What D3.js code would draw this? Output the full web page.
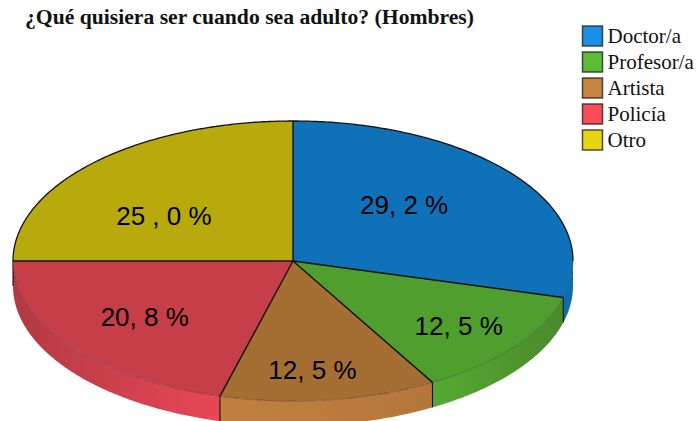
<!DOCTYPE html>
<html>
<head>
<meta charset="utf-8">
<script src="https://cdn.jsdelivr.net/npm/d3@7"></script>
<style>
  html, body { margin: 0; padding: 0; background: #fff; overflow: hidden; }
  svg { display: block; }
</style>
</head>
<body>
<div id="chart"></div>
<script>
var titleText = "¿Qué quisiera ser cuando sea adulto? (Hombres)";
var categories = ["Doctor/a", "Profesor/a", "Artista", "Policía", "Otro"];
var percents = [29.2, 12.5, 12.5, 20.8, 25.0];
var sliceLabels = ["29, 2 %", "12, 5 %", "12, 5 %", "20, 8 %", "25 , 0 %"];
var legendColors = ["#1b8fe6", "#5cbc35", "#c58340", "#fd4c58", "#e5d60d"];
var topColors = ["#0f72b9", "#4f9e2e", "#a56f33", "#c63e48", "#b8a90c"];
var sideDark = ["#0f6dae", "#4a8a2b", "#b5763a", "#b23a42", "#a39609"];
var sideLight = ["#0f6dae", "#55aa30", "#c08040", "#e84756", "#a39609"];

var width = 696,
  height = 421;
var cx = 293,
  cy = 261,
  rx = 280,
  ry = 140,
  depth = 25;

// hand placed in the original, so per-slice fractions of the ellipse radii
var labelFractions = [[0.5, 0.66], [0.747, 0.76], [0.54, 0.78], [0.667, 0.657], [0.652, 0.455]];

var svg = d3.select("#chart").append("svg").attr("width", width).attr("height", height);
var pie = d3.pie().sort(null).value(function (d) { return d; });
var slices = pie(percents);

function px(a) { return rx * Math.sin(a); }
function py(a) { return -ry * Math.cos(a); }
function sampleAngles(a0, a1) {
  var n = Math.max(2, Math.ceil((a1 - a0) / 0.01));
  return d3.range(n + 1).map(function (i) { return a0 + ((a1 - a0) * i) / n; });
}

var defs = svg.append("defs");
var pieGroup = svg.append("g").attr("transform", "translate(" + cx + "," + cy + ")");

// side wall, only the front half of the ellipse shows
var wallArea = d3.area()
  .x(px)
  .y0(py)
  .y1(function (a) { return py(a) + depth; });
var frontStart = Math.PI / 2,
  frontEnd = (3 * Math.PI) / 2;

slices.forEach(function (s, i) {
  var a0 = Math.max(s.startAngle, frontStart),
    a1 = Math.min(s.endAngle, frontEnd);
  if (a1 <= a0) return;
  var grad = defs.append("linearGradient")
    .attr("id", "wall" + i)
    .attr("gradientUnits", "userSpaceOnUse")
    .attr("x1", px(a0)).attr("y1", 0)
    .attr("x2", px(a1)).attr("y2", 0);
  // lighter end faces the bottom of the pie
  var lightFirst = Math.abs(a0 - Math.PI) < Math.abs(a1 - Math.PI);
  grad.append("stop").attr("offset", "0").attr("stop-color", lightFirst ? sideLight[i] : sideDark[i]);
  grad.append("stop").attr("offset", "1").attr("stop-color", lightFirst ? sideDark[i] : sideLight[i]);
  pieGroup.append("path")
    .attr("d", wallArea(sampleAngles(a0, a1)))
    .attr("fill", "url(#wall" + i + ")");
});

// vertical edges on the wall
var edgeAngles = slices.map(function (s) { return s.endAngle; }).filter(function (a) {
  return a >= frontStart && a <= frontEnd;
});
pieGroup.selectAll(".edge")
  .data(edgeAngles)
  .enter()
  .append("line")
  .attr("class", "edge")
  .attr("x1", px).attr("x2", px)
  .attr("y1", py)
  .attr("y2", function (a) { return py(a) + depth; })
  .attr("stroke", "#111")
  .attr("stroke-width", 1.1);

// top face
var arc = d3.arc().innerRadius(0).outerRadius(rx);
pieGroup.append("g")
  .attr("transform", "scale(1," + ry / rx + ")")
  .selectAll("path")
  .data(slices)
  .enter()
  .append("path")
  .attr("d", arc)
  .attr("fill", function (d, i) { return topColors[i]; });

// spokes
pieGroup.selectAll(".spoke")
  .data(slices)
  .enter()
  .append("line")
  .attr("class", "spoke")
  .attr("x1", 0).attr("y1", 0)
  .attr("x2", function (d) { return px(d.startAngle); })
  .attr("y2", function (d) { return py(d.startAngle); })
  .attr("stroke", "#111")
  .attr("stroke-width", 1.4);

// rim: solid along the back, faint along the front
var rim = d3.line().x(px).y(py);
pieGroup.append("path")
  .attr("d", rim(sampleAngles(-Math.PI / 2, Math.PI / 2)))
  .attr("fill", "none")
  .attr("stroke", "#111")
  .attr("stroke-width", 1.3);
pieGroup.append("path")
  .attr("d", rim(sampleAngles(Math.PI / 2, (3 * Math.PI) / 2)))
  .attr("fill", "none")
  .attr("stroke", "#000")
  .attr("stroke-opacity", 0.3)
  .attr("stroke-width", 1);

// slice labels
pieGroup.selectAll(".slice-label")
  .data(slices)
  .enter()
  .append("text")
  .attr("class", "slice-label")
  .attr("x", function (d, i) { return px((d.startAngle + d.endAngle) / 2) * labelFractions[i][0]; })
  .attr("y", function (d, i) { return py((d.startAngle + d.endAngle) / 2) * labelFractions[i][1]; })
  .attr("dy", "0.36em")
  .attr("text-anchor", "middle")
  .attr("font-family", "'Liberation Sans', Arial, sans-serif")
  .attr("font-size", 26)
  .attr("fill", "#000")
  .text(function (d, i) { return sliceLabels[i]; });

svg.append("text")
  .attr("x", 25)
  .attr("y", 24)
  .attr("font-family", "'Liberation Serif', serif")
  .attr("font-weight", "bold")
  .attr("font-size", 20)
  .attr("textLength", 449)
  .attr("lengthAdjust", "spacingAndGlyphs")
  .attr("fill", "#111")
  .text(titleText);

var legendY = d3.scalePoint().domain(categories).range([36, 140]);
var legend = svg.append("g").selectAll("g")
  .data(categories)
  .enter()
  .append("g")
  .attr("transform", function (d) { return "translate(582.5," + legendY(d) + ")"; });
legend.append("rect")
  .attr("x", 0).attr("y", -10)
  .attr("width", 20).attr("height", 20)
  .attr("fill", function (d, i) { return legendColors[i]; })
  .attr("stroke", "#222")
  .attr("stroke-opacity", 0.8)
  .attr("stroke-width", 1.5);
legend.append("text")
  .attr("x", 25)
  .attr("dy", "0.33em")
  .attr("font-family", "'Liberation Serif', serif")
  .attr("font-size", 21)
  .attr("fill", "#111")
  .text(function (d) { return d; });
</script>
</body>
</html>
